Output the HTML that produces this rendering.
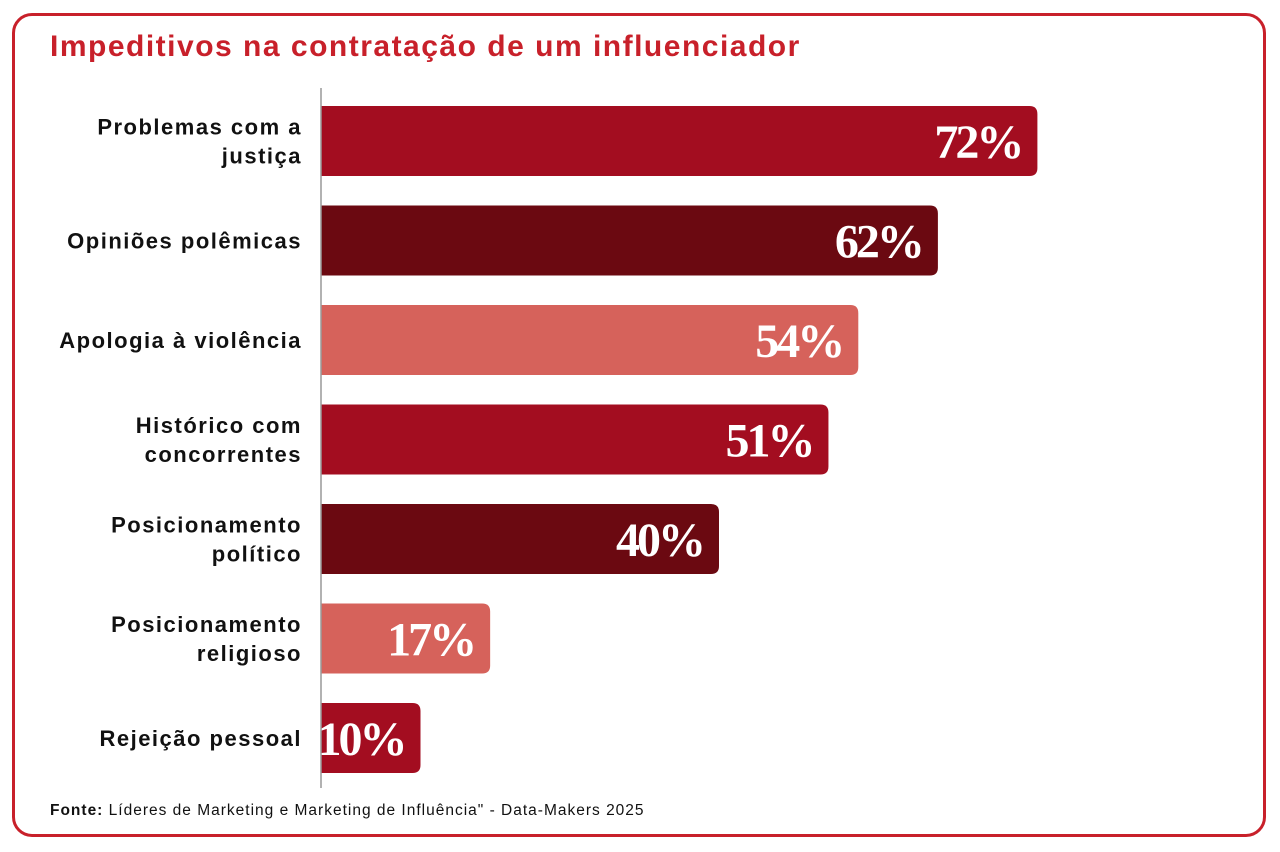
<!DOCTYPE html>
<html><head><meta charset="utf-8"><style>
body{margin:0;background:#fff;width:1280px;height:852px;overflow:hidden;font-family:"Liberation Sans",sans-serif}
#frame{position:absolute;left:12px;top:13px;width:1254px;height:824px;border:3px solid #c8202a;border-radius:20px;box-sizing:border-box}
#title{position:absolute;left:50px;top:30px;font-size:30px;font-weight:bold;color:#c8202a;letter-spacing:1.5px}
#foot{position:absolute;left:50px;top:802px;font-size:15.5px;color:#111;letter-spacing:1px}
</style></head><body>
<div id="frame"></div>
<div id="title">Impeditivos na contratação de um influenciador</div>
<svg id="chart" width="1280" height="852" style="position:absolute;left:0;top:0"></svg>
<div id="foot"><b>Fonte:</b> Líderes de Marketing e Marketing de Influência" - Data-Makers 2025</div>
<script>
const categories=[["Problemas com a","justiça"],["Opiniões polêmicas"],["Apologia à violência"],["Histórico com","concorrentes"],["Posicionamento","político"],["Posicionamento","religioso"],["Rejeição pessoal"]];
const values=[72,62,54,51,40,17,10];
const colors=["#a30d20","#6b0911","#d6625b","#a30d20","#6b0911","#d6625b","#a30d20"];
const svg=document.getElementById('chart');const NS='http://www.w3.org/2000/svg';
const x0=321,pxPer=9.95,top0=106,step=99.5,bh=70;
function x(v){return v*pxPer;}
function y(i){return top0+i*step;}
function mk(t,a){const e=document.createElementNS(NS,t);for(const k in a)e.setAttribute(k,a[k]);svg.appendChild(e);return e;}
values.forEach((v,i)=>{
  const r=mk('path',{d:`M${x0},${y(i)} h${x(v)-8} q8,0 8,8 v${bh-16} q0,8 -8,8 h-${x(v)-8} z`,fill:colors[i]});
  
  
  const t=mk('text',{x:x0+x(v)-16,y:y(i)+bh/2+17,'text-anchor':'end','font-family':'Liberation Serif,serif','font-weight':'bold','font-size':48,fill:'#fff','letter-spacing':'-3'});
  t.textContent=v+'%';
  
  
  const lines=categories[i];const cy=y(i)+bh/2;
  lines.forEach((s,j)=>{
    const c=mk('text',{x:302,y:cy+8+(j-(lines.length-1)/2)*29,'text-anchor':'end','font-weight':'bold','font-size':22,fill:'#111','letter-spacing':'1.5'});
    c.textContent=s;
    
    
  });
});
const ax=mk('line',{x1:x0,x2:x0,y1:88,y2:788,stroke:'#999','stroke-width':1.5});


</script>
</body></html>
